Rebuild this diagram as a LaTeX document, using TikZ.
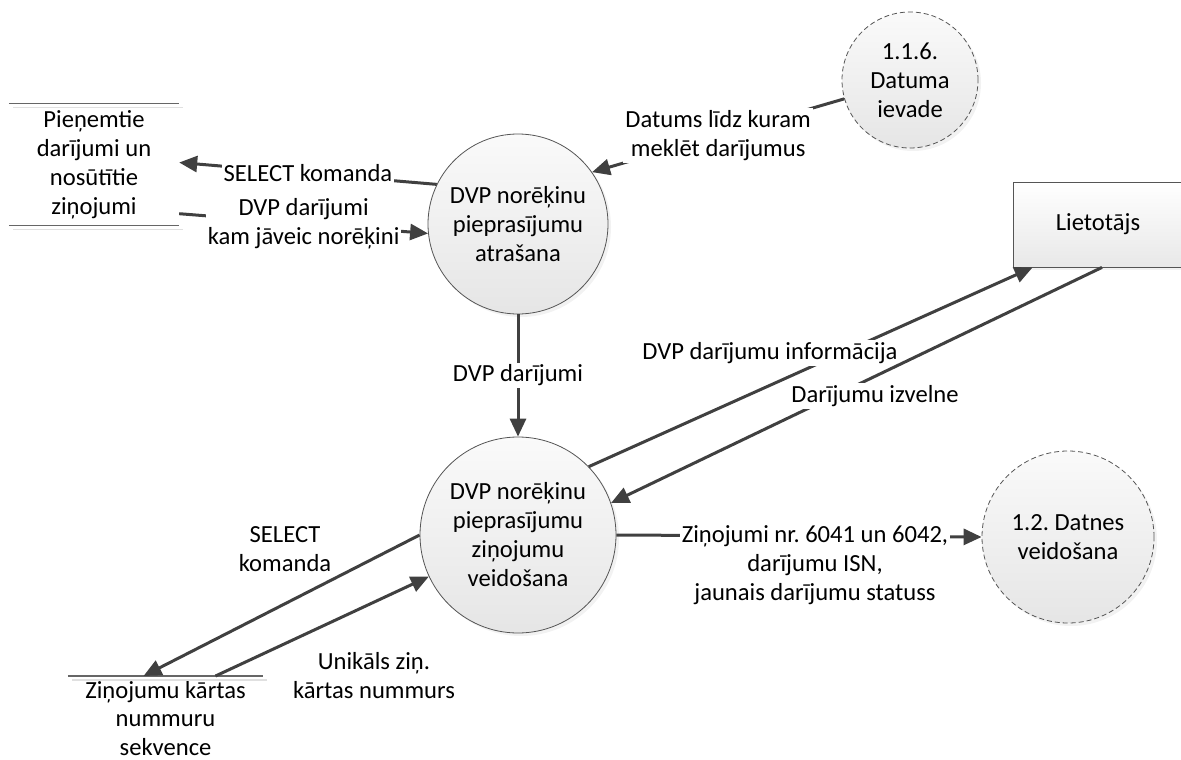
\documentclass[tikz,border=0pt]{standalone}
\usepackage{fontspec}
\setmainfont{Carlito}
\usetikzlibrary{arrows.meta,shadows}
\definecolor{linegray}{HTML}{404040}
\definecolor{rimgray}{HTML}{555555}
\frenchspacing
\begin{document}
\begin{tikzpicture}[x=1pt,y=-1pt,
  font=\fontsize{24.6}{29}\selectfont,
  proc/.style={circle, draw=rimgray, line width=0.8pt, top color=black!2, bottom color=black!10,
    drop shadow={shadow xshift=3pt, shadow yshift=-3pt, fill=black!10}, align=center, inner sep=0pt},
  extproc/.style={proc, dash pattern=on 5pt off 3pt},
  entity/.style={rectangle, draw=rimgray, line width=0.8pt, top color=white, bottom color=black!9,
    drop shadow={shadow xshift=3pt, shadow yshift=-3pt, fill=black!10}, align=center},
  store/.style={align=center, inner sep=0pt},
  storeline/.style={draw=black!60, line width=1.2pt},
  storeshade/.style={draw=black!12, line width=1.2pt},
  flow/.style={draw=linegray, line width=3pt, -{Triangle[length=18pt,width=16pt]}},
  flowlabel/.style={fill=white, align=center, inner sep=2pt}]
  \useasboundingbox (0,0) rectangle (1181,760);
  \node[proc, minimum size=180pt] (find) at (518,224) {DVP norēķinu\\pieprasījumu\\atrašana};
  \node[proc, minimum size=196pt] (build) at (518,535) {DVP norēķinu\\pieprasījumu\\ziņojumu\\veidošana};
  \node[extproc, minimum size=136pt] (date) at (910,80) {1.1.6.\\Datuma\\ievade};
  \node[extproc, minimum size=172pt] (file) at (1068,537) {1.2. Datnes\\veidošana};
  \node[entity, minimum width=170pt, minimum height=85pt] (user) at (1098,224.5) {Lietotājs};
  \node[store, minimum width=170pt, minimum height=121pt] (msgs) at (94,164.5) {Pieņemtie\\darījumi un\\nosūtītie\\ziņojumi};
  \node[store, minimum width=195pt, anchor=north, inner ysep=5pt, font=\fontsize{24.6}{28.5}\selectfont] (seq) at (165.5,676) {Ziņojumu kārtas\\nummuru\\sekvence};
  \draw[storeshade] ([shift={(4pt,-4pt)}]msgs.north west) -- ([shift={(4pt,-4pt)}]msgs.north east);
  \draw[storeshade] ([shift={(4pt,-4pt)}]msgs.south west) -- ([shift={(4pt,-4pt)}]msgs.south east);
  \draw[storeshade] ([shift={(4pt,-4pt)}]seq.north west) -- ([shift={(4pt,-4pt)}]seq.north east);
  \draw[storeline] (msgs.north west) -- (msgs.north east);
  \draw[storeline] (msgs.south west) -- (msgs.south east);
  \draw[storeline] (seq.north west) -- (seq.north east);
  \draw[flow] (find.154) -- node[flowlabel]{SELECT komanda} ([yshift=2pt]msgs.east);
  \draw[flow] (msgs.-30) -- node[flowlabel]{DVP darījumi\\kam jāveic norēķini} (find.186);
  \draw[flow] (date.196) -- node[flowlabel]{Datums līdz kuram\\meklēt darījumus} (find.35);
  \draw[flow] (find.south) -- node[flowlabel]{DVP darījumi} (build.north);
  \draw[flow] (build.44) -- ([xshift=20pt]user.south west);
  \node[flowlabel] (infolabel) at (770,353) {DVP darījumu informācija};
  \draw[flow] ([xshift=4pt]user.south) -- (build.19);
  \node[flowlabel] (menulabel) at (875,396) {Darījumu izvelne};
  \draw[flow] (build.east) -- (file.west);
  \node[flowlabel] (msglabel) at (815,565) {Ziņojumi nr. 6041 un 6042,\\darījumu ISN,\\jaunais darījumu statuss};
  \draw[flow] (build.west) -- ([xshift=-22pt]seq.north);
  \node[flowlabel] (selectlabel) at (285,549) {SELECT\\komanda};
  \draw[flow] ([xshift=50pt]seq.north) -- (build.205);
  \node[flowlabel] (isnlabel) at (374,676) {Unikāls ziņ.\\kārtas nummurs};
\end{tikzpicture}
\end{document}
